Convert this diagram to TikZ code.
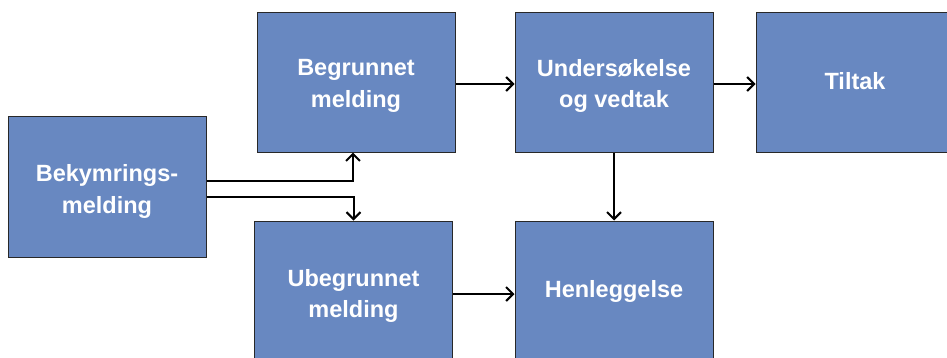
\documentclass[tikz,border=0pt]{standalone}
\usepackage{fontspec}
\setmainfont{Liberation Sans}
\usetikzlibrary{arrows.meta}
\definecolor{boxblue}{RGB}{104,136,193}
\definecolor{boxedge}{RGB}{40,40,40}
\begin{document}
\begin{tikzpicture}[x=1pt,y=-1pt,
  blk/.style={draw=boxedge,line width=1pt,fill=boxblue,minimum width=198pt,minimum height=140pt,
    inner sep=0pt},
  lbl/.style={inner sep=0pt,align=center,text=white,font=\fontsize{23.5}{31.5}\selectfont\bfseries},
  conn/.style={line width=2pt,-{Straight Barb[length=7pt,width=14pt,line width=2pt]}}]
\useasboundingbox (0,0) rectangle (947,357);
\begin{scope}
\clip (0,0) rectangle (947,357);
\node[blk,minimum height=141pt] (bek) at (107,186.5) {};
\node[blk] (beg) at (356,82) {};
\node[blk] (und) at (614,82) {};
\node[blk] (til) at (855,82) {};
\node[blk] (ube) at (353.5,291) {};
\node[blk] (hen) at (614,291) {};
\end{scope}
\node[lbl] (bekt) at ([yshift=-5pt]bek.center) {Bekymrings-\\melding};
\node[lbl] (begt) at ([yshift=-4pt]beg.center) {Begrunnet\\melding};
\node[lbl] (undt) at ([yshift=-4pt]und.center) {Undersøkelse\\og vedtak};
\node[lbl] (tilt) at ([yshift=1pt]til.center) {Tiltak};
\node[lbl] (ubet) at ([yshift=-5pt]ube.center) {Ubegrunnet\\melding};
\node[lbl] (hent) at (hen.center) {Henleggelse};
\coordinate (upx) at ([xshift=-3pt]beg.south);
\draw[conn] ([yshift=5.5pt]bek.east) -| (upx);
\draw[conn] ([yshift=-10.5pt]bek.east) -| (ube.north);
\draw[conn] ([yshift=-2pt]beg.east) -- ([yshift=-2pt]und.west);
\draw[conn] ([yshift=-2pt]und.east) -- ([yshift=-2pt]til.west);
\draw[conn] (und.south) -- (hen.north);
\draw[conn] ([yshift=-3pt]ube.east) -- ([yshift=-3pt]ube.east -| hen.west);
\end{tikzpicture}
\end{document}
